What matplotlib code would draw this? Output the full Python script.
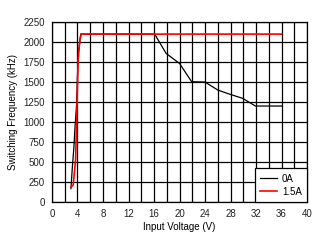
import matplotlib
matplotlib.use("Agg")
import matplotlib.pyplot as plt

# 0A load
v_0a = [2.97, 3.2, 3.44, 3.6, 3.86, 3.95, 4.1, 4.27, 4.5, 16.1, 17.9, 20.0, 21.9, 24.0, 26.0, 27.8, 29.9, 31.9, 36.0]
f_0a = [166, 441, 691, 925, 1225, 1441, 1860, 1950, 2100, 2100, 1858, 1733, 1504, 1500, 1400, 1350, 1296, 1200, 1200]

# 1.5A load
v_15a = [2.97, 3.33, 3.7, 4.1, 4.37, 4.6, 36.0]
f_15a = [184, 212, 525, 1775, 2025, 2100, 2100]

plt.rcParams['font.family'] = ['Liberation Sans', 'DejaVu Sans']

fig = plt.figure(figsize=(3.27, 2.43), dpi=100)
ax = fig.add_axes([0.159, 0.169, 0.780, 0.740])

ax.plot(v_0a, f_0a, color='black', lw=0.9, label='0A')
ax.plot(v_15a, f_15a, color='red', lw=1.2, label='1.5A')

ax.set_xlim(0, 40)
ax.set_ylim(0, 2250)
ax.set_xticks(range(0, 41, 4))
ax.set_xticks(range(0, 41, 2), minor=True)
ax.set_yticks(range(0, 2251, 250))
ax.grid(True, which='both', color='black', lw=0.9)
ax.set_axisbelow(True)
ax.tick_params(which='both', length=0, labelsize=7, pad=5, colors='#222222')
for s in ax.spines.values():
    s.set_color('black')
    s.set_linewidth(0.9)

ax.set_xlabel('Input Voltage (V)', fontsize=7, labelpad=2)
ax.set_ylabel('Switching Frequency (kHz)', fontsize=7, labelpad=4)

leg = ax.legend(loc='lower right', fontsize=7, frameon=True, fancybox=False,
                edgecolor='black', borderaxespad=0, handlelength=1.75,
                handletextpad=0.5, borderpad=0.55, labelspacing=0.3)
leg.get_frame().set_linewidth(0.9)
leg.get_frame().set_alpha(1)

fig.savefig('out.png', dpi=100)
